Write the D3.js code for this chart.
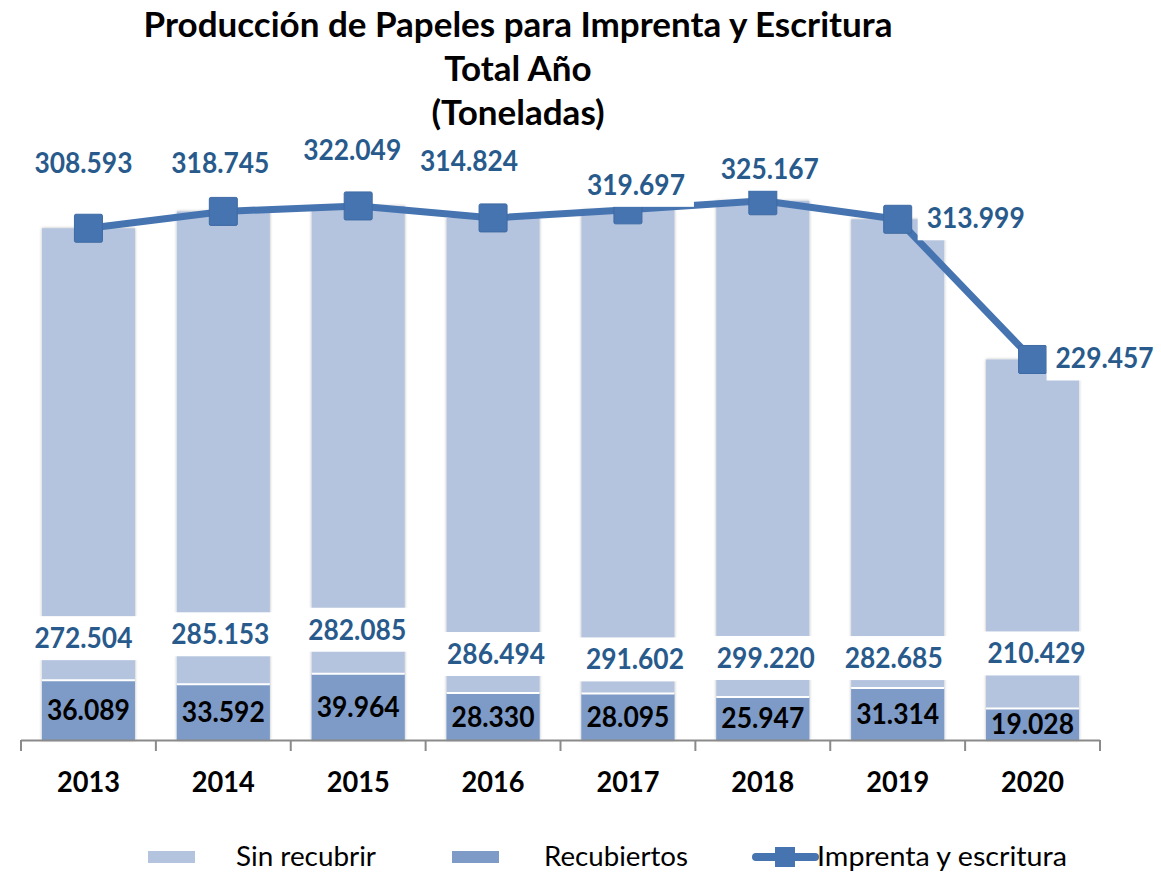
<!DOCTYPE html>
<html>
<head>
<meta charset="utf-8">
<script src="https://cdn.jsdelivr.net/npm/d3@7"></script>
<style>
  html, body { margin: 0; padding: 0; background: #fff; }
  svg { display: block; }
</style>
</head>
<body>
<svg id="chart" width="1161" height="872"></svg>
<script>
// ---- Data ----
const years = ["2013", "2014", "2015", "2016", "2017", "2018", "2019", "2020"];
const sinRecubrir = [272504, 285153, 282085, 286494, 291602, 299220, 282685, 210429];
const recubiertos = [36089, 33592, 39964, 28330, 28095, 25947, 31314, 19028];
const imprentaTotal = [308593, 318745, 322049, 314824, 319697, 325167, 313999, 229457];
const titleLines = ["Producción de Papeles para Imprenta y Escritura", "Total Año", "(Toneladas)"];
const legendLabels = ["Sin recubrir", "Recubiertos", "Imprenta y escritura"];

// ---- Label placement (manual nudges as in the original) ----
const totalLabelDx = [-5, -3, -6, -24, 8, 7, 78, 72];
const totalLabelDy = [-65, -48, -56, -57, -25, -32, -1, -1];
const sinLabelDx = [-5, -3, -1, 3, 7, 3, -4, 4];
const sinLabelDy = [-42, -50, -44, -39, -34, -39, -30, -55];

// ---- Styles ----
const cLight = "#B4C3DE", cDark = "#7E9BC7", cLine = "#4674B0", cLabel = "#285A8C";
const FONT = "Lato, 'Open Sans', sans-serif";
const W = 1161;

const locale = d3.formatLocale({ decimal: ",", thousands: ".", grouping: [3], currency: ["", ""] });
const fmt = locale.format(",d");

const svg = d3.select("#chart");
const defs = svg.append("defs");
const f = defs.append("filter").attr("id", "shadow").attr("x", "-20%").attr("y", "-5%").attr("width", "140%").attr("height", "110%");
f.append("feDropShadow").attr("dx", 0).attr("dy", 0).attr("stdDeviation", 1.6)
  .attr("flood-color", "#000").attr("flood-opacity", 0.3);

const x = d3.scaleBand().domain(years).range([21, 1100]).paddingInner(0.31).paddingOuter(0.155);
const y = d3.scaleLinear().domain([0, 360000]).range([740, 143]);
const cx = d => x(d) + x.bandwidth() / 2;

// Title
svg.append("g").selectAll("text").data(titleLines).join("text")
  .attr("x", 518).attr("y", (d, i) => 37 + i * 44)
  .attr("text-anchor", "middle")
  .attr("font-family", FONT).attr("font-weight", 700).attr("font-size", 35)
  .attr("fill", "#000").text(d => d);

// Bars
const bars = svg.append("g");
bars.selectAll("rect.outer").data(years).join("rect").attr("class", "outer")
  .attr("x", d => x(d)).attr("width", x.bandwidth())
  .attr("y", (d, i) => y(imprentaTotal[i])).attr("height", (d, i) => y(0) - y(imprentaTotal[i]))
  .attr("fill", cLight).attr("filter", "url(#shadow)");
bars.selectAll("rect.dark").data(years).join("rect").attr("class", "dark")
  .attr("x", d => x(d)).attr("width", x.bandwidth())
  .attr("y", (d, i) => y(recubiertos[i])).attr("height", (d, i) => y(0) - y(recubiertos[i]))
  .attr("fill", cDark);
bars.selectAll("line.sep").data(years).join("line").attr("class", "sep")
  .attr("x1", d => x(d)).attr("x2", d => x(d) + x.bandwidth())
  .attr("y1", (d, i) => y(recubiertos[i])).attr("y2", (d, i) => y(recubiertos[i]))
  .attr("stroke", "#fff").attr("stroke-width", 2);

// Axis
const axis = svg.append("g");
axis.append("line").attr("x1", 21).attr("x2", 1100).attr("y1", 740.5).attr("y2", 740.5)
  .attr("stroke", "#8A8A8A").attr("stroke-width", 2);
const bounds = years.map(d => x(d) - x.step() * x.paddingInner() / 2).concat([1100]);
axis.selectAll("line.tick").data(bounds).join("line").attr("class", "tick")
  .attr("x1", d => d).attr("x2", d => d).attr("y1", 740).attr("y2", 751)
  .attr("stroke", "#8A8A8A").attr("stroke-width", 2);
axis.selectAll("text").data(years).join("text")
  .attr("x", d => cx(d)).attr("y", 792).attr("text-anchor", "middle")
  .attr("font-family", FONT).attr("font-weight", 700).attr("font-size", 28)
  .attr("textLength", 63).attr("lengthAdjust", "spacingAndGlyphs")
  .attr("fill", "#000").text(d => d);

// Labels helper
function boxedLabel(g, cxv, cyv, txt, color, w) {
  const bx = cxv - w / 2 - 9;
  const bw = Math.min(w + 18, W - bx);
  g.append("rect").attr("x", bx).attr("y", cyv - 22).attr("width", bw).attr("height", 44).attr("fill", "#fff");
  g.append("text").attr("x", cxv).attr("y", cyv + 10).attr("text-anchor", "middle")
    .attr("font-family", FONT).attr("font-weight", 700).attr("font-size", 28)
    .attr("textLength", w).attr("lengthAdjust", "spacingAndGlyphs")
    .attr("fill", color).text(txt);
}

// Sin recubrir labels
const sinG = svg.append("g");
years.forEach((d, i) => {
  boxedLabel(sinG, cx(d) + sinLabelDx[i], y(recubiertos[i]) + sinLabelDy[i], fmt(sinRecubrir[i]), cLabel, 98);
});

// Recubiertos labels (centered in segment)
svg.append("g").selectAll("text").data(years).join("text")
  .attr("x", d => cx(d)).attr("y", (d, i) => (y(recubiertos[i]) + y(0)) / 2 + 10)
  .attr("text-anchor", "middle")
  .attr("font-family", FONT).attr("font-weight", 700).attr("font-size", 28)
  .attr("textLength", 83).attr("lengthAdjust", "spacingAndGlyphs")
  .attr("fill", "#000").text((d, i) => fmt(recubiertos[i]));

// Line
const line = d3.line().x((d, i) => cx(years[i])).y(d => y(d));
svg.append("path").datum(imprentaTotal).attr("d", line)
  .attr("fill", "none").attr("stroke", cLine).attr("stroke-width", 7).attr("stroke-linejoin", "round");
svg.append("g").selectAll("rect").data(imprentaTotal).join("rect")
  .attr("x", (d, i) => cx(years[i]) - 14).attr("y", d => y(d) - 14)
  .attr("width", 28).attr("height", 28).attr("rx", 1.5)
  .attr("fill", cLine).attr("stroke", "#3E6AA3").attr("stroke-width", 1);

// Total labels
const totG = svg.append("g");
years.forEach((d, i) => {
  boxedLabel(totG, cx(d) + totalLabelDx[i], y(imprentaTotal[i]) + totalLabelDy[i], fmt(imprentaTotal[i]), cLabel, 98);
});

// Legend
const lg = svg.append("g").attr("font-family", FONT).attr("font-size", 26).attr("fill", "#000");
const swatchX = [148, 452];
[cLight, cDark].forEach((c, i) => {
  lg.append("rect").attr("x", swatchX[i]).attr("y", 851).attr("width", 47).attr("height", 12).attr("fill", c);
});
lg.append("line").attr("x1", 756).attr("x2", 815).attr("y1", 857).attr("y2", 857)
  .attr("stroke", cLine).attr("stroke-width", 8).attr("stroke-linecap", "round");
lg.append("rect").attr("x", 775).attr("y", 847).attr("width", 20).attr("height", 20).attr("fill", cLine);
const legendX = [236, 544, 817];
const legendW = [140, 144, 250];
legendLabels.forEach((t, i) => {
  lg.append("text").attr("x", legendX[i]).attr("y", 866)
    .attr("textLength", legendW[i]).attr("lengthAdjust", "spacingAndGlyphs").text(t);
});
</script>
</body>
</html>
